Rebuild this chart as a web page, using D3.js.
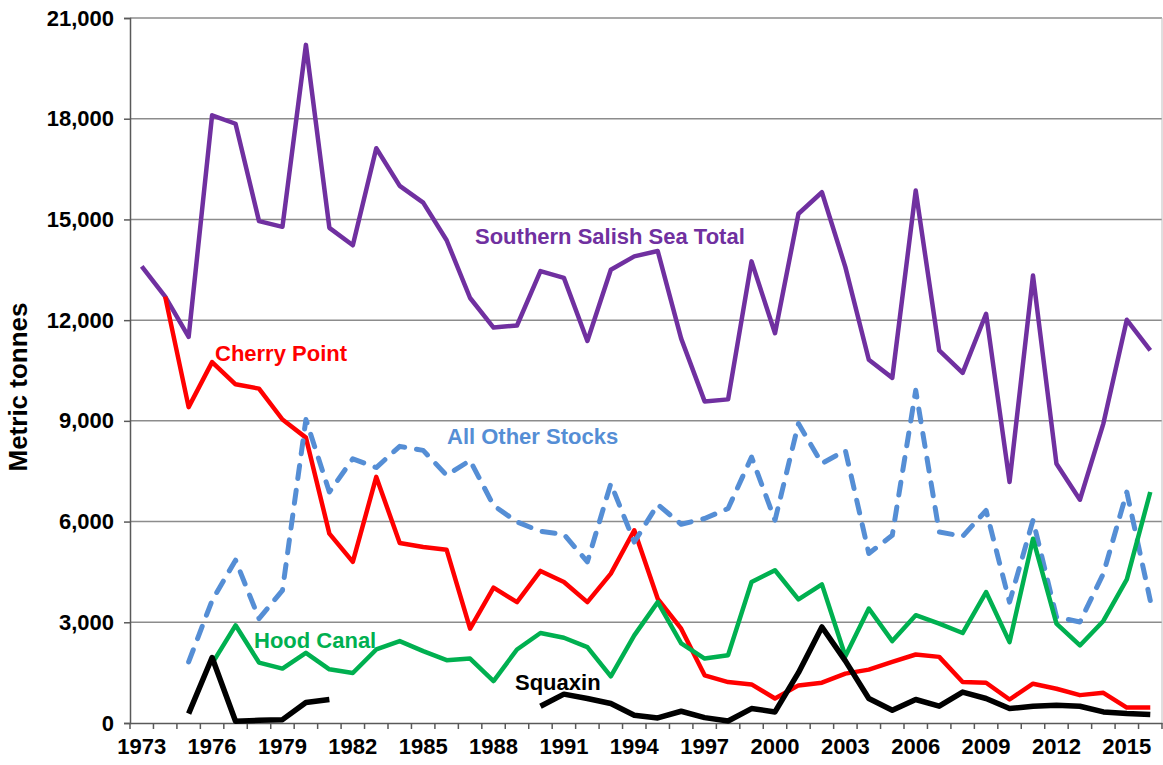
<!DOCTYPE html>
<html>
<head>
<meta charset="utf-8">
<script src="https://cdn.jsdelivr.net/npm/d3@7"></script>
<style>
  body { margin: 0; background: #fff; }
  svg text { font-family: "Liberation Sans", Arial, sans-serif; font-weight: bold; }
</style>
</head>
<body>
<svg id="herring-chart" width="1163" height="765"></svg>
<script>
// years 1973..2016
const years = d3.range(1973, 2017);
const yTicks = [0, 3000, 6000, 9000, 12000, 15000, 18000, 21000];

const southernTotal = [13600, 12700, 11500, 18100, 17850, 14950, 14780, 20200, 14750, 14230,
  17120, 16000, 15500, 14380, 12660, 11780, 11840, 13460, 13260, 11380,
  13500, 13900, 14060, 11450, 9580, 9640, 13750, 11610, 15170, 15810,
  13580, 10820, 10280, 15860, 11100, 10430, 12190, 7180, 13330, 7720,
  6650, 8920, 12010, 11100];

const cherryPoint = [null, 12700, 9410, 10750, 10090, 9960, 9040, 8500, 5640, 4800,
  7330, 5360, 5240, 5160, 2810, 4030, 3600, 4530, 4200, 3600,
  4450, 5740, 3700, 2810, 1420, 1220, 1150, 730, 1120, 1200,
  1470, 1590, 1820, 2040, 1970, 1220, 1200, 700, 1170, 1020,
  830, 900, 460, 460];

const otherStocks = [null, null, 1820, 3650, 4850, 3110, 3950, 9040, 6880, 7870,
  7610, 8240, 8120, 7380, 7820, 6480, 5990, 5710, 5620, 4800,
  7130, 5390, 6510, 5920, 6090, 6390, 7920, 6040, 8920, 7730,
  8120, 5050, 5590, 9910, 5690, 5560, 6330, 3600, 6040, 3160,
  3010, 4450, 6880, 3650];

const hoodCanal = [null, null, null, 1770, 2910, 1800, 1620, 2090, 1600, 1490,
  2190, 2440, 2140, 1870, 1920, 1250, 2190, 2680, 2540, 2260,
  1390, 2610, 3600, 2370, 1920, 2020, 4200, 4550, 3680, 4130,
  1990, 3410, 2440, 3210, 2960, 2680, 3900, 2410, 5490, 2960,
  2310, 3040, 4280, 6880];

const squaxin = [null, null, 280, 1950, 50, 80, 100, 610, 700, null,
  null, null, null, null, null, null, null, 500, 860, 730,
  580, 230, 150, 350, 160, 60, 430, 330, 1500, 2860,
  1850, 730, 380, 700, 500, 920, 730, 430, 500, 530,
  500, 330, 280, 250];

const seriesList = [
  { name: "Southern Salish Sea Total", values: southernTotal, color: "#7030A0", width: 4.5, dash: null, lx: 475, ly: 244 },
  { name: "Cherry Point", values: cherryPoint, color: "#FF0000", width: 4.5, dash: null, lx: 215, ly: 361 },
  { name: "All Other Stocks", values: otherStocks, color: "#558ED5", width: 5, dash: "13,12", lx: 447, ly: 444 },
  { name: "Hood Canal", values: hoodCanal, color: "#00B050", width: 4.5, dash: null, lx: 254, ly: 648 },
  { name: "Squaxin", values: squaxin, color: "#000000", width: 5.5, dash: null, lx: 515, ly: 690 }
];

const svg = d3.select('svg#herring-chart');
const margin = { left: 130, top: 18, right: 1, bottom: 42 };
const width = +svg.attr('width') - margin.left - margin.right;
const height = +svg.attr('height') - margin.top - margin.bottom;

const x = d3.scaleBand().domain(years).range([0, width]).padding(0);
const y = d3.scaleLinear().domain([0, 21000]).range([height, 0]);

const g = svg.append('g').attr('transform', `translate(${margin.left},${margin.top})`);

// gridlines
g.selectAll('.grid').data(yTicks.filter(d => d > 0)).enter().append('line')
  .attr('x1', 0).attr('x2', width)
  .attr('y1', d => y(d)).attr('y2', d => y(d))
  .attr('stroke', '#8c8c8c').attr('stroke-width', 1.5);

// right border
g.append('line').attr('x1', width).attr('x2', width).attr('y1', 0).attr('y2', height)
  .attr('stroke', '#bfbfbf').attr('stroke-width', 1);

// y axis
const yAxis = d3.axisLeft(y).tickValues(yTicks).tickSize(6).tickPadding(10)
  .tickFormat(d3.format(','));
const yG = g.append('g').call(yAxis);
yG.select('.domain').attr('stroke', '#595959').attr('stroke-width', 1.5);
yG.selectAll('.tick line').attr('stroke', '#595959').attr('stroke-width', 1.5);
yG.selectAll('.tick text').attr('font-size', 22).attr('fill', '#000');

// x axis: labels every 3 years, ticks at category boundaries
const xAxis = d3.axisBottom(x).tickValues(years.filter(d => (d - 1973) % 3 === 0))
  .tickSize(0).tickPadding(15);
const xG = g.append('g').attr('transform', `translate(0,${height})`).call(xAxis);
xG.select('.domain').attr('stroke', '#595959').attr('stroke-width', 1.5);
xG.selectAll('.tick text').attr('font-size', 22).attr('fill', '#000');

g.selectAll('.xtick').data(years.concat([2017])).enter().append('line')
  .attr('x1', d => d === 2017 ? width : x(d)).attr('x2', d => d === 2017 ? width : x(d))
  .attr('y1', height).attr('y2', height + 6)
  .attr('stroke', '#595959').attr('stroke-width', 1.5);

// y label
svg.append('text')
  .attr('transform', `translate(27,387) rotate(-90)`)
  .attr('text-anchor', 'middle')
  .attr('font-size', 26)
  .text('Metric tonnes');

// lines
const line = d3.line()
  .defined(d => d.v != null)
  .x(d => x(d.year) + x.bandwidth() / 2)
  .y(d => y(d.v));

seriesList.forEach(s => {
  const pts = years.map((yr, i) => ({ year: yr, v: s.values[i] }));
  g.append('path')
    .datum(pts)
    .attr('d', line)
    .attr('fill', 'none')
    .attr('stroke', s.color)
    .attr('stroke-width', s.width)
    .attr('stroke-linejoin', 'round')
    .attr('stroke-linecap', s.dash ? 'round' : 'butt')
    .attr('stroke-dasharray', s.dash);
});

// series labels
svg.selectAll('.series-label').data(seriesList).enter().append('text')
  .attr('x', d => d.lx).attr('y', d => d.ly)
  .attr('font-size', 22)
  .attr('fill', d => d.color)
  .text(d => d.name);
</script>
</body>
</html>
